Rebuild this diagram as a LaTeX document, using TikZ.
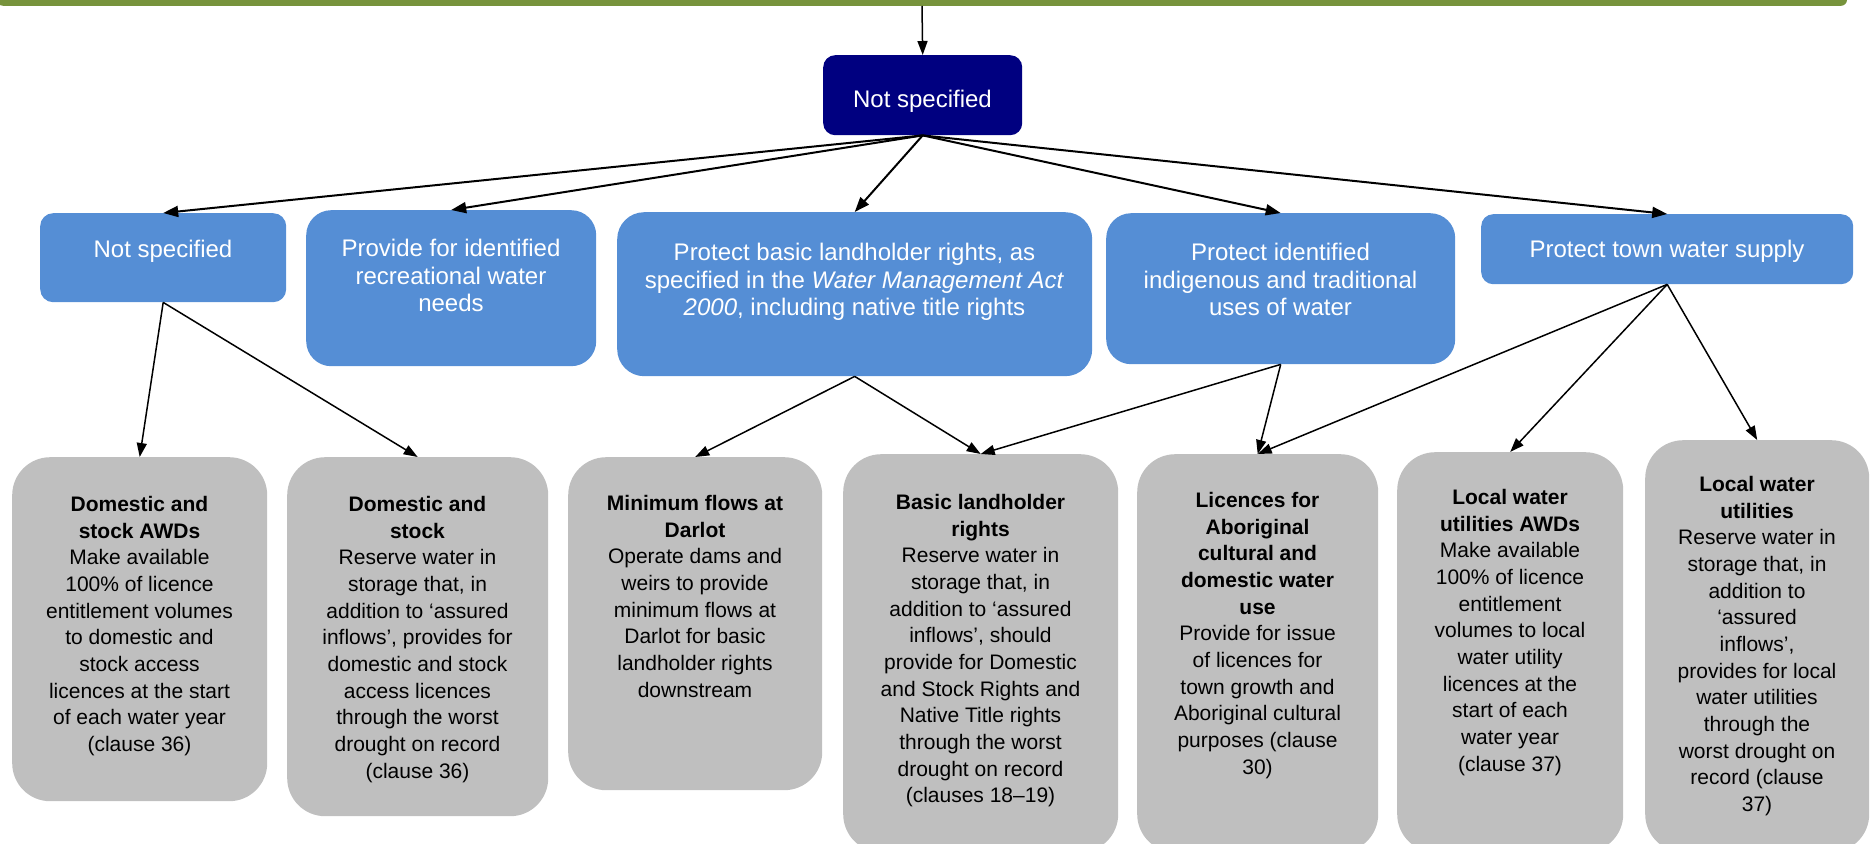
\documentclass[tikz,border=0pt]{standalone}
\usepackage{fontspec}
\setmainfont{Liberation Sans}
\usetikzlibrary{arrows.meta}

\definecolor{bargreen}{HTML}{77933C}
\definecolor{boxnavy}{HTML}{000080}
\definecolor{boxblue}{HTML}{558ED5}
\definecolor{boxgrey}{HTML}{BFBFBF}

\tikzset{
  panel/.style={draw=none, inner sep=0pt, anchor=north west},
  navybox/.style={panel, fill=boxnavy, rounded corners=12pt},
  bluebox/.style={panel, fill=boxblue},
  greybox/.style={panel, fill=boxgrey, rounded corners=38pt},
  bluetext/.style={anchor=north, inner sep=0pt, align=center, text=white,
    font=\fontsize{24}{27.5}\selectfont},
  greytext/.style={anchor=north, inner sep=0pt, align=center, text=black,
    font=\fontsize{21}{26.67}\selectfont},
  arr/.style={line width=2pt, -{Triangle[length=15pt,width=11pt]}},
  arrlow/.style={line width=1.5pt, -{Triangle[length=14pt,width=10pt]}},
}

\begin{document}
\begin{tikzpicture}[x=1pt,y=-1pt]
\useasboundingbox (0,0) rectangle (1870,843);

% strip of the box above
\node[fill=bargreen, rounded corners=6pt, inner sep=0pt, minimum width=1850pt,
  minimum height=40pt, anchor=south] (top) at (922,6) {};

% first level
\node[navybox, minimum width=199pt, minimum height=80pt] (nav) at (823,55) {};
\node[bluetext] at (922.5,90) {Not specified};

% second level
\node[bluebox, rounded corners=13pt, minimum width=246pt, minimum height=89pt] (l1) at (40,213) {};
\node[bluetext] at (163,240) {Not specified};

\node[bluebox, rounded corners=25pt, minimum width=290pt, minimum height=156pt] (l2) at (306,210) {};
\node[bluetext] at (451,239) {Provide for identified\\recreational water\\needs};

\node[bluebox, rounded corners=27pt, minimum width=475pt, minimum height=164pt] (l3) at (617,212) {};
\node[bluetext] at (854.5,243) {Protect basic landholder rights, as\\specified in the \textit{Water Management Act}\\\textit{2000}, including native title rights};

\node[bluebox, rounded corners=25pt, minimum width=349pt, minimum height=151pt] (l4) at (1106,213) {};
\node[bluetext] at (1280.5,243) {Protect identified\\indigenous and traditional\\uses of water};

\node[bluebox, rounded corners=12pt, minimum width=372pt, minimum height=70pt] (l5) at (1481,214) {};
\node[bluetext] at (1667,240) {Protect town water supply};

% third level
\node[greybox, minimum width=255pt, minimum height=344pt] (ga) at (12,457) {};
\node[greytext] at (139.5,496) {\textbf{Domestic and}\\\textbf{stock AWDs}\\Make available\\100\% of licence\\entitlement volumes\\to domestic and\\stock access\\licences at the start\\of each water year\\(clause 36)};

\node[greybox, minimum width=261pt, minimum height=359pt] (gb) at (287,457) {};
\node[greytext] at (417.5,496) {\textbf{Domestic and}\\\textbf{stock}\\Reserve water in\\storage that, in\\addition to ‘assured\\inflows’, provides for\\domestic and stock\\access licences\\through the worst\\drought on record\\(clause 36)};

\node[greybox, minimum width=254pt, minimum height=333pt] (gc) at (568,457) {};
\node[greytext] at (695,495) {\textbf{Minimum flows at}\\\textbf{Darlot}\\Operate dams and\\weirs to provide\\minimum flows at\\Darlot for basic\\landholder rights\\downstream};

\node[greybox, minimum width=275pt, minimum height=398pt] (gd) at (843,454) {};
\node[greytext] at (980.5,494) {\textbf{Basic landholder}\\\textbf{rights}\\Reserve water in\\storage that, in\\addition to ‘assured\\inflows’, should\\provide for Domestic\\and Stock Rights and\\Native Title rights\\through the worst\\drought on record\\(clauses 18–19)};

\node[greybox, minimum width=241pt, minimum height=398pt] (ge) at (1137,454) {};
\node[greytext] at (1257.5,492) {\textbf{Licences for}\\\textbf{Aboriginal}\\\textbf{cultural and}\\\textbf{domestic water}\\\textbf{use}\\Provide for issue\\of licences for\\town growth and\\Aboriginal cultural\\purposes (clause\\30)};

\node[greybox, minimum width=226pt, minimum height=400pt] (gf) at (1397,452) {};
\node[greytext] at (1510,489) {\textbf{Local water}\\\textbf{utilities AWDs}\\Make available\\100\% of licence\\entitlement\\volumes to local\\water utility\\licences at the\\start of each\\water year\\(clause 37)};

\node[greybox, minimum width=224pt, minimum height=412pt] (gg) at (1645,440) {};
\node[greytext] at (1757,476) {\textbf{Local water}\\\textbf{utilities}\\Reserve water in\\storage that, in\\addition to\\‘assured\\inflows’,\\provides for local\\water utilities\\through the\\worst drought on\\record (clause\\37)};

% connectors
\draw[line width=1.5pt, -{Triangle[length=14pt,width=10pt]}] (top.south) -- (nav.north);
\draw[arr] (nav.south) -- (l1.north);
\draw[arr] (nav.south) -- (l2.north);
\draw[arr] (nav.south) -- (l3.north);
\draw[arr] (nav.south) -- (l4.north);
\draw[arr] (nav.south) -- (l5.north);

\draw[arrlow] (l1.south) -- (ga.north);
\draw[arrlow] (l1.south) -- (gb.north);
\draw[arrlow] (l3.south) -- (gc.north);
\draw[arrlow] (l3.south) -- (gd.north);
\draw[arrlow] (l4.south) -- (gd.north);
\draw[arrlow] (l4.south) -- (ge.north);
\draw[arrlow] (l5.south) -- (ge.north);
\draw[arrlow] (l5.south) -- (gf.north);
\draw[arrlow] (l5.south) -- (gg.north);
\end{tikzpicture}
\end{document}
